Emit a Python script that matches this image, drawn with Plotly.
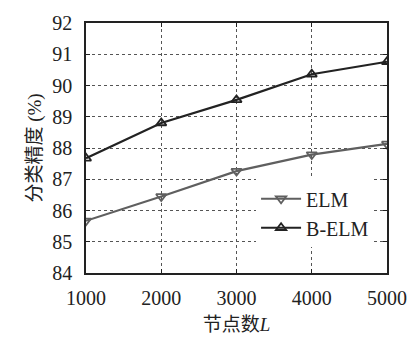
import plotly.graph_objects as go

nodes = [1000, 2000, 3000, 4000, 5000]
elm = [85.67, 86.45, 87.26, 87.79, 88.13]
belm = [87.67, 88.80, 89.54, 90.36, 90.76]
y_ticks = [84, 85, 86, 87, 88, 89, 90, 91, 92]

serif = "Liberation Serif, DejaVu Serif, serif"

fig = go.Figure()
fig.add_trace(go.Scatter(
    x=nodes, y=elm, name="ELM", mode="lines+markers",
    line=dict(color="#5f5f5f", width=2.2),
    marker=dict(symbol="triangle-down-open", size=9, color="#5f5f5f", line=dict(width=1.8)),
))
fig.add_trace(go.Scatter(
    x=nodes, y=belm, name="B-ELM", mode="lines+markers",
    line=dict(color="#222222", width=2.2),
    marker=dict(symbol="triangle-up-open", size=9, color="#222222", line=dict(width=1.8)),
))

axis_common = dict(
    showline=True, linecolor="#222", linewidth=1.5, mirror="ticks",
    ticks="inside", ticklen=4, tickcolor="#222",
    showgrid=True, gridcolor="#555", griddash="dot", gridwidth=1,
    zeroline=False, tickfont=dict(family=serif, size=20, color="#222"),
)

fig.update_xaxes(range=[1000, 5000], tickvals=nodes, ticktext=[str(v) for v in nodes],
                 ticklabelstandoff=6,
                 title=dict(text="<span style='font-family:Noto Sans CJK SC'>节点数</span><i>L</i>",
                            font=dict(family=serif, size=19, color="#222"), standoff=6),
                 **axis_common)
fig.update_yaxes(range=[84, 92], tickvals=y_ticks, ticktext=[str(v) for v in y_ticks],
                 ticklabelstandoff=8,
                 title=dict(text="<span style='font-family:Noto Sans CJK SC'>分类精度</span> (%)",
                            font=dict(family=serif, size=19, color="#222"), standoff=6),
                 **axis_common)

fig.update_layout(
    width=419, height=340,
    margin=dict(l=86, r=21, t=16, b=66),
    plot_bgcolor="white", paper_bgcolor="white",
    legend=dict(x=0.565, y=0.375, xanchor="left", yanchor="top",
                bgcolor="white", borderwidth=0,
                font=dict(family=serif, size=20, color="#222"),
                itemwidth=40, tracegroupgap=2),
)

fig.write_html("out.html")
